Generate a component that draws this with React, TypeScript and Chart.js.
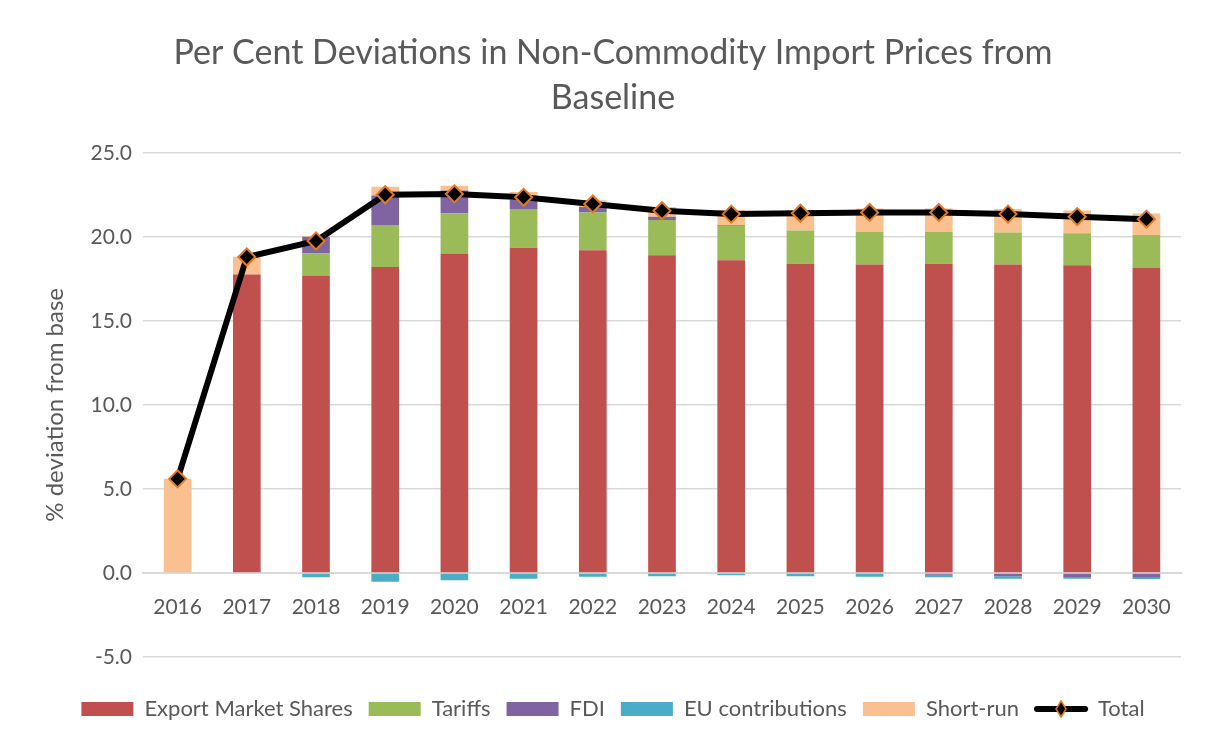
import React, { useEffect, useRef } from "react";
import { Chart, registerables } from "chart.js";

Chart.register(...registerables);

const years = ["2016","2017","2018","2019","2020","2021","2022","2023","2024","2025","2026","2027","2028","2029","2030"];
const exportMarketShares = [0, 17.75, 17.7, 18.2, 19.0, 19.35, 19.2, 18.9, 18.6, 18.4, 18.35, 18.4, 18.35, 18.3, 18.15];
const tariffs = [0, 0, 1.3, 2.5, 2.4, 2.3, 2.25, 2.1, 2.05, 1.97, 1.93, 1.89, 1.91, 1.91, 1.95];
const fdi = [0, 0, 1.0, 1.75, 1.35, 0.55, 0.33, 0.2, 0.05, 0, 0, -0.1, -0.2, -0.24, -0.28];
const euContributions = [0, 0, -0.26, -0.52, -0.44, -0.34, -0.22, -0.2, -0.14, -0.2, -0.22, -0.16, -0.14, -0.1, -0.08];
const shortRun = [5.6, 1.07, 0.05, 0.53, 0.29, 0.47, 0.4, 0.57, 0.9, 1.22, 1.4, 1.4, 1.39, 1.35, 1.28];
const total = [5.6, 18.8, 19.75, 22.5, 22.55, 22.35, 21.95, 21.55, 21.35, 21.4, 21.45, 21.45, 21.35, 21.2, 21.05];

const FONT = "Lato, 'Open Sans', sans-serif";
const TEXT = "#595959";
const MARKER_BORDER = "#E3791E";

function makeTotalLegendIcon(): HTMLCanvasElement {
  const c = document.createElement("canvas");
  c.width = 56;
  c.height = 20;
  const ctx = c.getContext("2d")!;
  ctx.strokeStyle = "#000";
  ctx.lineWidth = 6;
  ctx.lineCap = "round";
  ctx.beginPath();
  ctx.moveTo(4, 10);
  ctx.lineTo(52, 10);
  ctx.stroke();
  ctx.beginPath();
  ctx.moveTo(28, 2);
  ctx.lineTo(33, 10);
  ctx.lineTo(28, 18);
  ctx.lineTo(23, 10);
  ctx.closePath();
  ctx.fillStyle = "#000";
  ctx.fill();
  ctx.lineWidth = 1.5;
  ctx.strokeStyle = MARKER_BORDER;
  ctx.stroke();
  return c;
}

export default function App() {
  const ref = useRef<HTMLCanvasElement | null>(null);

  useEffect(() => {
    if (!ref.current) return;
    const totalIcon = makeTotalLegendIcon();
    const barDs = (label: string, data: number[], color: string) => ({
      type: "bar" as const,
      label,
      data,
      backgroundColor: color,
      borderWidth: 0,
      stack: "s",
      barPercentage: 0.4,
      categoryPercentage: 1,
      order: 1,
    });
    const chart = new Chart(ref.current, {
      type: "bar",
      data: {
        labels: years,
        datasets: [
          barDs("Export Market Shares", exportMarketShares, "#C0504D"),
          barDs("Tariffs", tariffs, "#9BBB59"),
          barDs("FDI", fdi, "#8064A2"),
          barDs("EU contributions", euContributions, "#4BACC6"),
          barDs("Short-run", shortRun, "#FAC090"),
          {
            type: "line" as const,
            label: "Total",
            data: total,
            borderColor: "#000000",
            borderWidth: 6,
            pointStyle: "rectRot",
            pointRadius: 8.5,
            pointBackgroundColor: "#000000",
            pointBorderColor: MARKER_BORDER,
            pointBorderWidth: 2,
            stack: "line",
            order: 0,
            tension: 0,
          } as any,
        ],
      },
      options: {
        animation: false,
        responsive: false,
        maintainAspectRatio: false,
        layout: { padding: { left: 19, right: 0, top: 0, bottom: 12 } },
        plugins: {
          title: {
            display: true,
            text: ["Per Cent Deviations in Non-Commodity Import Prices from", "Baseline"],
            color: TEXT,
            font: { family: FONT, size: 34, weight: "normal", lineHeight: 1.32 },
            padding: { top: 30.5, bottom: 32.5 },
          },
          legend: {
            position: "bottom",
            title: { display: true, text: " ", padding: 0, font: { size: 25, lineHeight: 1 } },
            labels: {
              color: TEXT,
              font: { family: FONT, size: 22 },
              usePointStyle: true,
              pointStyleWidth: 52,
              boxHeight: 14,
              padding: 16,
              sort: (a: any, b: any) => a.datasetIndex - b.datasetIndex,
              generateLabels: (chart: any) => {
                const items = Chart.defaults.plugins.legend.labels.generateLabels(chart);
                return items.map((it: any) => {
                  if (it.text === "Total") {
                    return { ...it, pointStyle: totalIcon, lineWidth: 0 };
                  }
                  return { ...it, pointStyle: "rect", lineWidth: 0, strokeStyle: "transparent" };
                });
              },
            },
          },
          tooltip: { enabled: false },
        },
        scales: {
          x: {
            type: "category",
            position: { y: 0 } as any,
            stacked: true,
            grid: { display: false, drawTicks: false },
            border: { display: true, color: "#D9D9D9", width: 2 },
            ticks: { color: TEXT, font: { family: FONT, size: 21 }, padding: 22, maxRotation: 0, autoSkip: false },
          },
          y: {
            stacked: true,
            min: -5,
            max: 25,
            ticks: {
              stepSize: 5,
              color: TEXT,
              font: { family: FONT, size: 21 },
              padding: 11,
              callback: (v: any) => Number(v).toFixed(1),
            },
            grid: { color: "#D9D9D9", lineWidth: 1.5, drawTicks: false },
            border: { display: false },
            title: {
              display: true,
              text: "% deviation from base",
              color: TEXT,
              font: { family: FONT, size: 24 },
              padding: { top: 21.6, bottom: 0 },
            },
            afterFit: (s: any) => {
              s.width = 124;
            },
          },
          yR: {
            type: "linear",
            position: "right",
            display: true,
            grid: { display: false, drawTicks: false },
            border: { display: false },
            ticks: { display: false },
            afterFit: (s: any) => {
              s.width = 26;
            },
          },
        },
      },
    });
    return () => chart.destroy();
  }, []);

  return (
    <div style={{ position: "fixed", left: 0, top: 0, width: 1207, height: 742, background: "#fff" }}>
      <canvas ref={ref} width={1207} height={742} style={{ width: 1207, height: 742 }} />
    </div>
  );
}
